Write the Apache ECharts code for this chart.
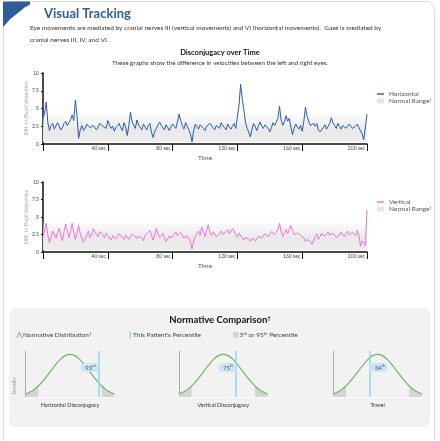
<!DOCTYPE html>
<html>
<head>
<meta charset="utf-8">
<script src="https://cdn.jsdelivr.net/npm/echarts@6/dist/echarts.min.js"></script>
<style>
  html, body { margin: 0; padding: 0; background: #fff; }
  #chart { width: 440px; height: 441px; }
</style>
</head>
<body>
<div id="chart"></div>
<script>
// disconjugacy samples, one per second (0..200 s)
const horizontal = [
  3.6, 4.3, 5.9, 3.0, 1.9, 2.6, 2.9, 2.1, 2.2, 3.0,
  2.8, 2.0, 2.3, 2.9, 3.2, 2.6, 2.5, 3.4, 4.1, 3.3,
  6.2, 4.0, 0.8, 2.0, 2.6, 1.9, 2.2, 2.8, 2.9, 2.3,
  2.1, 2.6, 2.7, 2.0, 2.4, 2.9, 3.0, 2.5, 2.6, 2.2,
  3.3, 2.7, 2.2, 2.5, 1.8, 2.3, 2.6, 2.9, 2.3, 1.9,
  3.0, 2.4, 1.2, 2.6, 4.5, 3.1, 2.9, 2.2, 3.4, 2.7,
  2.5, 2.0, 2.8, 2.4, 2.0, 2.6, 2.9, 1.6, 0.9, 1.8,
  2.2, 2.7, 3.1, 2.6, 2.4, 2.0, 2.7, 2.3, 1.9, 2.4,
  2.8, 2.5, 2.2, 3.1, 4.2, 3.3, 2.6, 2.1, 3.0, 2.5,
  2.0, 1.4, 0.3, 1.9, 2.8, 2.4, 2.1, 2.7, 2.6, 2.2,
  1.9, 2.5, 2.4, 2.9, 2.8, 2.3, 2.0, 2.6, 2.5, 2.2,
  3.0, 2.6, 2.3, 2.0, 2.8, 2.4, 2.1, 2.5, 2.9, 2.2,
  2.4, 5.5, 8.4, 6.3, 4.8, 3.0, 2.2, 1.7, 1.0, 2.1,
  2.9, 2.4, 1.9, 2.6, 3.1, 2.5, 2.2, 2.7, 2.8, 2.2,
  1.7, 2.3, 3.0, 2.6, 2.4, 3.6, 5.3, 3.4, 2.6, 3.1,
  4.0, 3.2, 3.6, 2.4, 1.3, 2.2, 2.8, 2.4, 2.1, 2.6,
  1.8, 3.2, 5.2, 3.9, 3.7, 2.6, 2.5, 2.9, 2.5, 2.9,
  2.0, 1.7, 1.5, 2.3, 2.7, 2.1, 2.2, 2.9, 3.7, 3.0,
  2.6, 2.2, 2.9, 2.5, 2.1, 2.6, 2.7, 2.2, 2.3, 2.8,
  2.6, 2.2, 2.0, 2.5, 2.8, 2.3, 2.3, 1.4, 0.6, 2.4,
  4.2
]
const vertical = [
  2.2, 3.0, 4.1, 2.4, 1.3, 2.2, 3.0, 2.5, 2.0, 2.8,
  3.4, 2.3, 1.6, 2.9, 4.0, 3.1, 2.1, 2.9, 4.1, 2.8,
  1.8, 2.7, 3.8, 2.6, 1.9, 1.4, 1.2, 2.4, 3.0, 2.1,
  2.4, 3.3, 3.3, 2.5, 2.2, 2.9, 3.1, 2.4, 2.0, 2.7,
  2.6, 2.0, 1.7, 2.3, 2.4, 1.9, 2.0, 2.6, 2.7, 2.1,
  1.8, 2.4, 2.3, 1.8, 2.0, 2.6, 2.8, 2.2, 1.9, 2.3,
  2.5, 2.0, 1.6, 2.4, 2.2, 2.8, 3.1, 2.3, 1.7, 2.5,
  3.4, 2.6, 2.1, 2.4, 2.7, 2.0, 1.5, 1.9, 2.3, 2.0,
  1.8, 2.5, 2.9, 2.3, 2.2, 2.8, 2.6, 2.0, 1.9, 2.3,
  2.4, 1.5, 0.4, 1.6, 2.2, 2.7, 3.0, 2.4, 3.6, 2.8,
  2.2, 3.1, 3.9, 2.7, 2.3, 2.9, 2.8, 2.2, 2.0, 2.6,
  3.0, 2.5, 2.4, 2.9, 3.2, 2.6, 2.5, 3.3, 3.0, 2.4,
  2.1, 2.7, 2.6, 2.0, 1.7, 2.1, 2.2, 1.8, 1.5, 2.0,
  1.9, 1.6, 1.6, 2.2, 2.4, 2.0, 2.0, 2.6, 2.8, 2.2,
  2.3, 2.9, 3.0, 2.5, 2.4, 3.2, 4.1, 2.9, 2.2, 2.8,
  3.2, 2.6, 2.6, 3.8, 3.8, 2.5, 2.3, 2.7, 2.9, 2.4,
  2.6, 2.0, 1.5, 1.8, 2.0, 1.5, 1.1, 1.6, 2.2, 2.6,
  1.8, 2.2, 2.7, 2.3, 2.1, 2.5, 2.9, 2.4, 2.3, 2.7,
  2.6, 2.1, 1.9, 2.4, 2.8, 2.5, 2.2, 2.6, 3.0, 2.5,
  2.3, 2.8, 2.7, 2.3, 3.1, 2.4, 0.8, 1.6, 1.5, 0.9,
  6.0
]
const sampleStep = 1
const timeTicks = [40, 80, 120, 160, 200]
const velocityTicks = ['0', '2.5', '5', '7.5', '10']
const normalRange = [0.3, 4.2]

// normative distribution curve (standard scores and density)
const bellZ = [-2.3, -2.25, -2, -1.75, -1.645, -1.5, -1.25, -1, -0.75, -0.5, -0.25, 0,
  0.25, 0.5, 0.75, 1, 1.25, 1.5, 1.645, 1.75, 2, 2.25, 2.3]
const bellDensity = [0.028, 0.032, 0.054, 0.086, 0.103, 0.130, 0.183, 0.242, 0.301, 0.352, 0.387, 0.399,
  0.387, 0.352, 0.301, 0.242, 0.183, 0.130, 0.103, 0.086, 0.054, 0.032, 0.028]
const tailCut = 1.645
const normNames = ['Horizontal Disconjugacy', 'Vertical Disconjugacy', 'Travel']
const patientZ = [1.48, 0.67, -0.41]
const percentiles = ['93', '75', '34']
const suffixes = ['rd', 'th', 'th']

const chart = echarts.init(document.getElementById('chart'))

const FONT = 'Lato, "Open Sans", sans-serif'
const bandColor = {
  type: 'linear', x: 0, y: 0, x2: 0, y2: 1,
  colorStops: [
    { offset: 0, color: 'rgba(240,240,240,0.3)' },
    { offset: 0.55, color: '#e9e9e9' },
    { offset: 1, color: '#ededed' }
  ]
}

const timeGrids = [
  { left: 43, top: 73, width: 324, height: 71 },
  { left: 43, top: 182, width: 324, height: 70 }
]
const bellLefts = [25.7, 179, 333.3]

const timeXAxis = (idx) => ({
  gridIndex: idx, type: 'value', min: 0, max: 200, interval: 40,
  name: 'Time', nameLocation: 'middle', nameGap: 10,
  nameTextStyle: { fontSize: 6.5, color: '#555', fontFamily: FONT },
  axisLine: { lineStyle: { color: '#111', width: 1.5 } },
  axisTick: { length: 7, lineStyle: { color: '#111', width: 1 } },
  axisLabel: {
    fontSize: 5, color: '#444', align: 'right', margin: 2, padding: [0, 2, 0, 0], fontFamily: FONT,
    formatter: v => timeTicks.includes(v) ? v + ' sec' : ''
  },
  splitLine: { show: false }
})

const velocityYAxis = (idx) => ({
  gridIndex: idx, type: 'value', min: 0, max: 10, interval: 2.5,
  name: 'Diff. in Pupil Velocities', nameLocation: 'middle', nameGap: 14, nameMoveOverlap: false,
  nameTextStyle: { fontSize: 5.5, color: '#aaa', fontFamily: FONT },
  axisLine: { show: true, lineStyle: { color: '#111', width: 1.5 } },
  axisTick: { show: true, length: 2, lineStyle: { color: '#111' } },
  axisLabel: { fontSize: 5, color: '#444', margin: 4, fontFamily: FONT, formatter: (v, i) => velocityTicks[i] },
  splitLine: { show: false }
})

const timeSeries = (name, values, color, idx) => ({
  name, type: 'line', xAxisIndex: idx, yAxisIndex: idx,
  data: values.map((v, i) => [i * sampleStep, v]),
  symbol: 'none', lineStyle: { color, width: 1 }, itemStyle: { color },
  markArea: {
    silent: true, itemStyle: { color: bandColor },
    data: [[{ yAxis: normalRange[0] }, { yAxis: normalRange[1] }]]
  },
  z: 3
})

const bellPairs = bellZ.map((z, i) => [z, bellDensity[i]])

const xAxis = [timeXAxis(0), timeXAxis(1)]
const yAxis = [velocityYAxis(0), velocityYAxis(1)]
const grid = [...timeGrids]
const series = [
  timeSeries('Horizontal', horizontal, '#2a5ca6', 0),
  { name: 'Normal Range', type: 'line', data: [], xAxisIndex: 0, yAxisIndex: 0, itemStyle: { color: '#e6e6e6' } },
  timeSeries('Vertical', vertical, '#ee74d6', 1),
  { name: 'Normal Range ', type: 'line', data: [], xAxisIndex: 1, yAxisIndex: 1, itemStyle: { color: '#e6e6e6' } }
]

bellLefts.forEach((left, k) => {
  const idx = 2 + k
  grid.push({ left, top: 351, width: 88.6, height: 46 })
  xAxis.push({
    gridIndex: idx, type: 'value', min: -2.3, max: 2.3,
    name: normNames[k], nameLocation: 'middle', nameGap: 5,
    nameTextStyle: { fontSize: 5.5, color: '#333', fontFamily: FONT },
    axisLine: { onZero: false, lineStyle: { color: '#fbfbfb' } },
    axisTick: { show: false }, axisLabel: { show: false }, splitLine: { show: false }
  })
  yAxis.push({
    gridIndex: idx, type: 'value', min: 0, max: 0.43,
    axisLine: { show: true, onZero: false, lineStyle: { color: '#aaa' } },
    axisTick: { show: false }, axisLabel: { show: false }, splitLine: { show: false }
  })
  const onRight = k === 2
  series.push({
    type: 'line', xAxisIndex: idx, yAxisIndex: idx, data: bellPairs.filter(p => p[0] <= -tailCut),
    smooth: true, symbol: 'none', lineStyle: { width: 0 }, areaStyle: { color: '#d4d4d4', opacity: 1 }, silent: true
  })
  series.push({
    type: 'line', xAxisIndex: idx, yAxisIndex: idx, data: bellPairs.filter(p => p[0] >= tailCut),
    smooth: true, symbol: 'none', lineStyle: { width: 0 }, areaStyle: { color: '#d4d4d4', opacity: 1 }, silent: true
  })
  series.push({
    type: 'line', xAxisIndex: idx, yAxisIndex: idx, data: bellPairs,
    smooth: true, symbol: 'none', lineStyle: { color: '#6cb562', width: 1.2 }, silent: true, z: 4,
    markLine: {
      silent: true, symbol: 'none', label: { show: false },
      lineStyle: { color: '#8fd4f3', width: 1.5, type: 'solid' },
      data: [{ xAxis: patientZ[k] }]
    },
    markPoint: {
      symbol: 'rect', symbolSize: [0.1, 0.1], itemStyle: { color: 'transparent' },
      data: [{ coord: [patientZ[k], 0.275] }],
      label: {
        show: true, position: onRight ? 'right' : 'left', distance: 0,
        formatter: '{n|' + percentiles[k] + '}{s|' + suffixes[k] + '}',
        backgroundColor: '#c8e6f5', borderRadius: onRight ? [0, 5, 5, 0] : [5, 0, 0, 5],
        padding: [1, 3, 1, 5],
        rich: {
          n: { fontSize: 6, color: '#555', fontFamily: FONT },
          s: { fontSize: 3.5, color: '#555', fontFamily: FONT, verticalAlign: 'top', padding: [0, 0, 3, 0] }
        }
      }
    }
  })
})

const legendText = {
  fontSize: 6.5, color: '#555', fontFamily: FONT, lineHeight: 7,
  rich: { s: { fontSize: 4, color: '#555', fontFamily: FONT, verticalAlign: 'top', padding: [0, 0, 3, 0] } }
}
const legendFmt = n => n.trim() === 'Normal Range' ? 'Normal Range{s|†}' : n
const lineIcon = 'path://M0,4L10,4L10,6L0,6Z'

const txt = (x, y, text, font, fill, align) => ({
  type: 'text', x, y,
  style: { text, font, fill, textAlign: align || 'left', textVerticalAlign: 'middle' }
})

const supRich = { s: { fontSize: 4, fill: '#444', fontFamily: FONT, verticalAlign: 'top', padding: [0, 0, 3, 0] } }

const option = {
  animation: false,
  textStyle: { fontFamily: FONT },
  grid, xAxis, yAxis, series,
  legend: [
    {
      data: [{ name: 'Horizontal', icon: lineIcon }, { name: 'Normal Range', icon: 'rect', itemStyle: { color: '#e6e6e6' } }],
      orient: 'vertical', left: 377, top: 90.5, padding: 0, itemWidth: 7, itemHeight: 5, itemGap: 0,
      selectedMode: false, textStyle: legendText, formatter: legendFmt
    },
    {
      data: [{ name: 'Vertical', icon: lineIcon }, { name: 'Normal Range ', icon: 'rect', itemStyle: { color: '#e6e6e6' } }],
      orient: 'vertical', left: 377, top: 198.5, padding: 0, itemWidth: 7, itemHeight: 5, itemGap: 0,
      selectedMode: false, textStyle: legendText, formatter: legendFmt
    }
  ],
  graphic: [
    { type: 'rect', z: -10, shape: { x: 3.5, y: 1.5, width: 431, height: 470, r: 8 }, style: { fill: '#fff', stroke: '#dcdcdc', lineWidth: 1 } },
    { type: 'polygon', z: -9,
      shape: { points: [[3, 1.5], [30, 1.5], [30, 4.5], [25, 7.3], [16.7, 14], [10, 19.3], [5, 25], [3, 27]] },
      style: { fill: '#2e5d9a' } },
    txt(44, 14, 'Visual Tracking', 'bold 13px ' + FONT, '#2d5c99'),
    txt(30, 28, 'Eye movements are mediated by cranial nerves III (vertical movements) and VI (horizontal movements).  Gaze is mediated by', '6.5px ' + FONT, '#333'),
    txt(30, 40, 'cranial nerves III, IV, and VI.', '6.5px ' + FONT, '#333'),
    txt(220, 53, 'Disconjugacy over Time', 'bold 7.5px ' + FONT, '#111', 'center'),
    txt(220, 63, 'These graphs show the difference in velocities between the left and right eyes.', '6.3px ' + FONT, '#333', 'center'),
    { type: 'rect', z: -8, shape: { x: 9, y: 308, width: 421, height: 119, r: 6 }, style: { fill: '#f2f2f2' } },
    {
      type: 'text', x: 220, y: 320,
      style: { text: 'Normative Comparison{s|†}', font: 'bold 9.5px ' + FONT, fill: '#111', textAlign: 'center', textVerticalAlign: 'middle',
        rich: { s: { fontSize: 6, fontWeight: 'bold', fill: '#111', fontFamily: FONT, verticalAlign: 'top', padding: [0, 0, 4, 0] } } }
    },
    { type: 'polyline', shape: { points: [[17, 338], [19.5, 332], [22, 338]] }, style: { stroke: '#6cb562', lineWidth: 1, fill: null } },
    {
      type: 'text', x: 23, y: 335,
      style: { text: 'Normative Distribution{s|†}', font: '6.5px ' + FONT, fill: '#444', textVerticalAlign: 'middle', rich: supRich }
    },
    { type: 'rect', shape: { x: 129.5, y: 331.5, width: 1.5, height: 7 }, style: { fill: '#8fd4f3' } },
    txt(133, 335, "This Patient's Percentile", '6.5px ' + FONT, '#444'),
    { type: 'rect', shape: { x: 233, y: 332, width: 5.5, height: 5.5 }, style: { fill: '#d2d2d2' } },
    {
      type: 'text', x: 239.5, y: 335,
      style: { text: '5{s|th} or 95{s|th} Percentile', font: '6.5px ' + FONT, fill: '#444', textVerticalAlign: 'middle', rich: supRich }
    },
    { type: 'text', x: 14, y: 386, rotation: Math.PI / 2,
      style: { text: 'Density', font: '5px ' + FONT, fill: '#999', textAlign: 'center', textVerticalAlign: 'middle' } }
  ]
}

chart.setOption(option)
</script>
</body>
</html>
